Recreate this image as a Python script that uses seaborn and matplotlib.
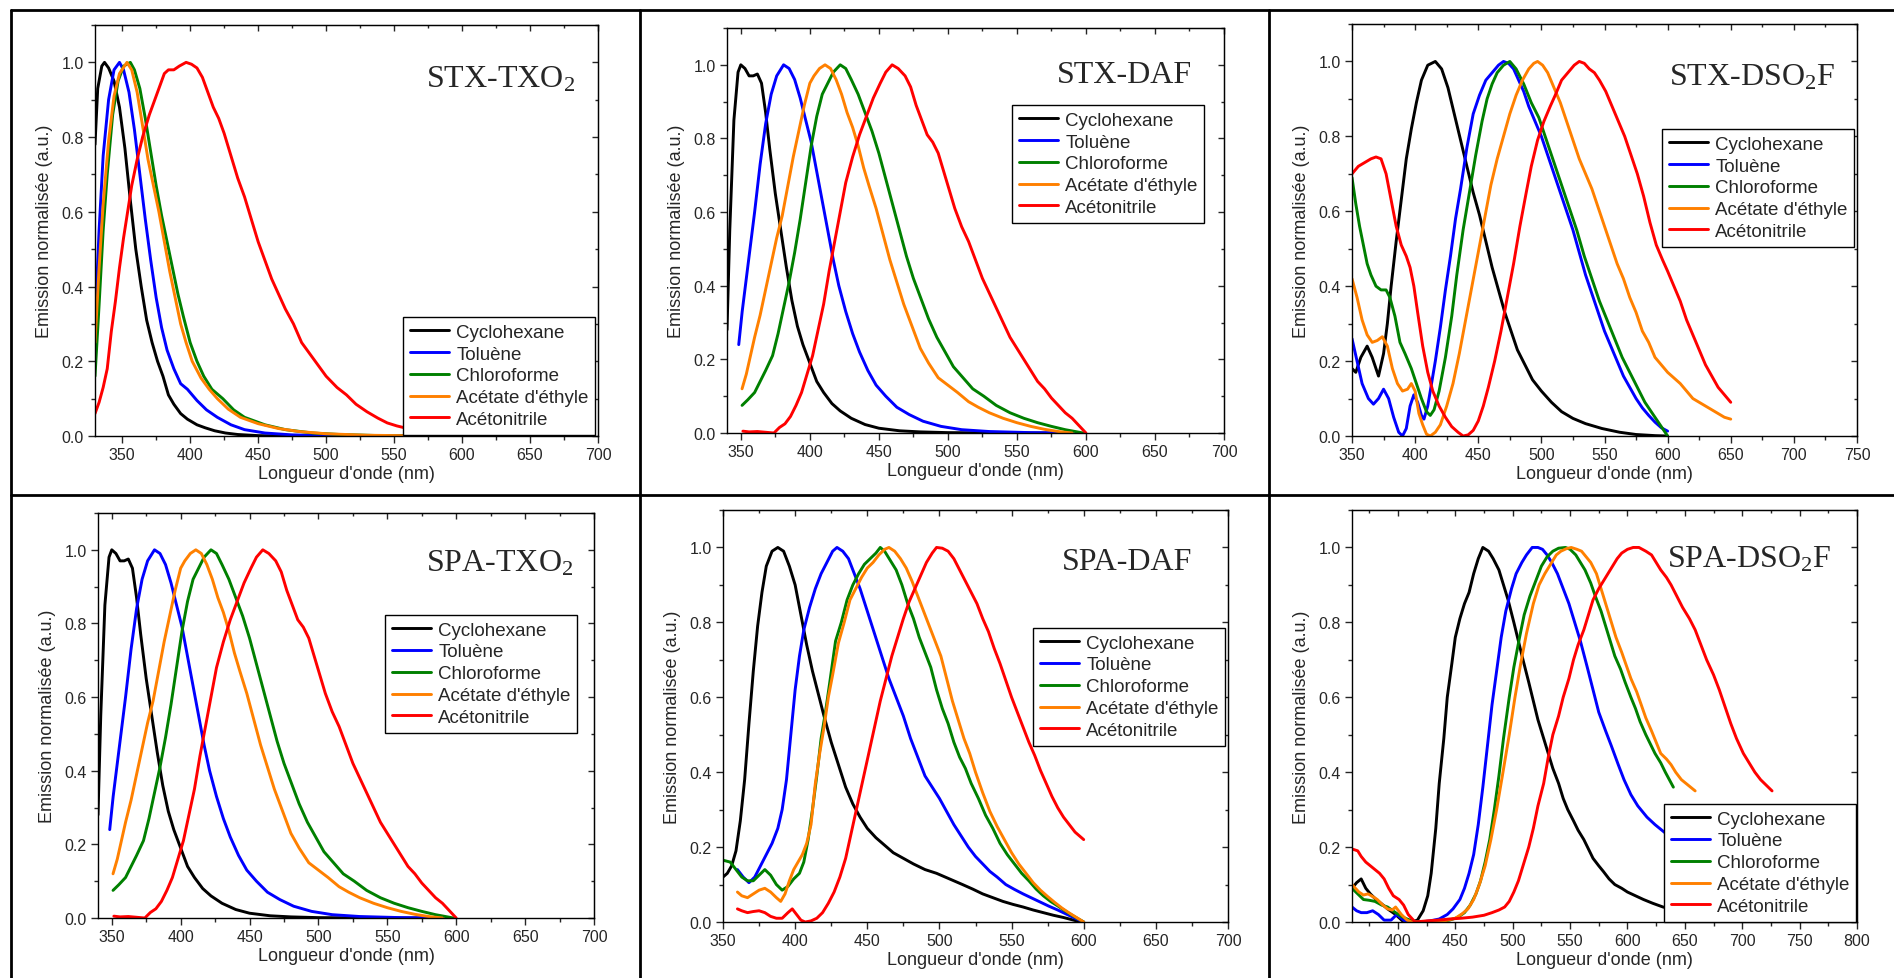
import matplotlib
matplotlib.use("Agg")
import matplotlib.pyplot as plt
from matplotlib.ticker import MultipleLocator, FormatStrFormatter
from matplotlib.lines import Line2D
import seaborn as sns

# Solvants et couleurs
solvants = ["Cyclohexane", "Toluène", "Chloroforme", "Acétate d'éthyle", "Acétonitrile"]
couleurs = ["#000000", "#0000FF", "#008000", "#FF8000", "#FF0000"]

#### STX-TXO2 ####
txo2_cyc_x = [330, 332, 335, 337, 340, 344, 348, 352, 356, 360, 364, 368, 372, 376, 380, 384, 388, 393, 398, 405,
              411, 418, 426, 435, 450, 470, 500, 550, 590]
txo2_cyc_y = [0.78, 0.93, 0.99, 1.0, 0.985, 0.95, 0.88, 0.77, 0.63, 0.50, 0.40, 0.31, 0.25, 0.20, 0.16, 0.11, 0.085,
              0.06, 0.045, 0.03, 0.022, 0.014, 0.008, 0.004, 0.001, 0.0, 0.0, 0.0, 0.0]
txo2_tol_x = [330, 333, 336, 340, 344, 348, 351, 355, 359, 363, 367, 371, 375, 379, 383, 388, 393, 398, 405, 412,
              420, 430, 440, 455, 475, 500, 550, 580]
txo2_tol_y = [0.30, 0.55, 0.75, 0.90, 0.98, 1.0, 0.98, 0.92, 0.82, 0.70, 0.58, 0.47, 0.37, 0.29, 0.23, 0.18, 0.14,
              0.125, 0.095, 0.07, 0.05, 0.03, 0.017, 0.008, 0.003, 0.001, 0.0, 0.0]
txo2_chl_x = [330, 333, 336, 339, 343, 347, 351, 356, 359, 363, 367, 371, 375, 379, 383, 387, 391, 395, 400, 405,
              410, 416, 424, 432, 440, 455, 470, 490, 510, 540, 575]
txo2_chl_y = [0.16, 0.35, 0.55, 0.70, 0.86, 0.95, 0.99, 1.0, 0.98, 0.93, 0.85, 0.76, 0.67, 0.59, 0.52, 0.45, 0.38,
              0.32, 0.25, 0.20, 0.16, 0.125, 0.10, 0.07, 0.05, 0.03, 0.017, 0.008, 0.004, 0.001, 0.0]
txo2_ace_x = [330, 333, 336, 340, 344, 348, 353.5, 357, 361, 365, 369, 373, 377, 381, 385, 389, 393, 397, 401.5, 408,
              414, 420, 428, 437, 450, 465, 480, 500, 530, 578]
txo2_ace_y = [0.25, 0.45, 0.62, 0.79, 0.91, 0.97, 1.0, 0.98, 0.92, 0.83, 0.74, 0.67, 0.60, 0.52, 0.44, 0.37, 0.30,
              0.25, 0.20, 0.155, 0.125, 0.10, 0.072, 0.05, 0.033, 0.02, 0.012, 0.006, 0.002, 0.0]
txo2_acn_x = [330, 333, 336, 339, 342, 345, 348, 351, 354, 357, 361, 365, 370, 376, 381, 384, 388, 392, 397, 401,
              405, 409, 413, 417, 421, 425, 430, 435, 440, 445, 450, 455, 460, 465, 470, 476, 482, 488, 494, 500,
              508, 515, 522, 530, 538, 545, 552, 560, 568, 575, 582, 590]
txo2_acn_y = [0.06, 0.09, 0.13, 0.18, 0.28, 0.36, 0.45, 0.53, 0.60, 0.67, 0.74, 0.80, 0.86, 0.92, 0.97, 0.98, 0.98,
              0.99, 1.0, 0.995, 0.985, 0.96, 0.92, 0.88, 0.85, 0.81, 0.75, 0.69, 0.64, 0.58, 0.52, 0.47, 0.42, 0.38,
              0.34, 0.30, 0.25, 0.22, 0.19, 0.16, 0.13, 0.11, 0.085, 0.065, 0.048, 0.035, 0.027, 0.02, 0.014, 0.01,
              0.005, 0.0]

#### STX-DAF ####
daf_cyc_x = [340, 342, 345, 348, 350, 353, 356, 359, 362, 365, 368, 371, 375, 379, 383, 387, 391, 395, 400, 405,
             410, 416, 422, 430, 440, 450, 465, 480, 500, 550, 590]
daf_cyc_y = [0.28, 0.55, 0.85, 0.98, 1.0, 0.99, 0.97, 0.97, 0.975, 0.95, 0.87, 0.77, 0.65, 0.55, 0.45, 0.36, 0.29,
             0.24, 0.19, 0.14, 0.11, 0.08, 0.06, 0.04, 0.023, 0.013, 0.006, 0.003, 0.001, 0.0, 0.0]
daf_tol_x = [348.5, 351, 354, 357, 360, 364, 368, 372, 376, 381, 385, 389, 393, 397, 401, 405, 409, 413, 417, 421,
             426, 431, 436, 442, 448, 455, 463, 472, 482, 495, 510, 530, 560, 590]
daf_tol_y = [0.24, 0.33, 0.42, 0.51, 0.60, 0.73, 0.84, 0.92, 0.97, 1.0, 0.99, 0.96, 0.91, 0.85, 0.79, 0.71, 0.63,
             0.55, 0.47, 0.40, 0.33, 0.27, 0.22, 0.17, 0.13, 0.10, 0.07, 0.05, 0.032, 0.018, 0.009, 0.004, 0.001, 0.0]
daf_chl_x = [350.9, 355, 360, 364, 368, 373, 377, 381, 385, 389, 393, 397, 401, 405, 409, 413, 417, 422, 426, 430,
             435, 440, 445, 450, 455, 460, 465, 470, 475, 480, 486, 492, 498, 504, 511, 518, 526, 535, 545, 555,
             565, 575, 585, 598]
daf_chl_y = [0.075, 0.09, 0.11, 0.14, 0.17, 0.21, 0.27, 0.34, 0.41, 0.49, 0.58, 0.68, 0.78, 0.86, 0.92, 0.95, 0.98,
             1.0, 0.99, 0.96, 0.92, 0.87, 0.82, 0.76, 0.69, 0.62, 0.55, 0.48, 0.42, 0.37, 0.31, 0.26, 0.22, 0.18,
             0.15, 0.12, 0.10, 0.075, 0.055, 0.04, 0.028, 0.018, 0.009, 0.0]
daf_ace_x = [350.9, 354, 357, 360, 364, 368, 372, 376, 380, 384, 388, 392, 396, 400, 403, 407, 411, 415, 419, 423,
             427, 431, 435, 439, 443, 448, 453, 458, 463, 468, 474, 480, 486, 493, 500, 507, 515, 522, 530, 540,
             550, 560, 570, 580, 590]
daf_ace_y = [0.12, 0.16, 0.21, 0.26, 0.32, 0.39, 0.46, 0.53, 0.59, 0.67, 0.75, 0.82, 0.89, 0.95, 0.97, 0.99, 1.0,
             0.99, 0.96, 0.92, 0.87, 0.83, 0.78, 0.72, 0.67, 0.61, 0.54, 0.47, 0.41, 0.35, 0.29, 0.23, 0.19, 0.15,
             0.13, 0.11, 0.085, 0.07, 0.055, 0.04, 0.028, 0.018, 0.01, 0.004, 0.0]
daf_acn_x = [351.5, 356, 362, 368, 374, 378, 382, 386, 390, 394, 398, 402, 406, 410, 414, 418, 422, 426, 431, 436,
             441, 446, 451, 455, 459.6, 464, 469, 473, 477, 481, 485, 489, 493, 497, 501, 505, 510, 515, 520, 525,
             530, 535, 540, 545, 550, 555, 560, 565, 570, 575, 580, 585, 590, 595, 600]
daf_acn_y = [0.005, 0.003, 0.004, 0.002, 0.0, 0.015, 0.025, 0.045, 0.075, 0.11, 0.16, 0.21, 0.28, 0.35, 0.44, 0.52,
             0.60, 0.68, 0.75, 0.81, 0.86, 0.91, 0.95, 0.98, 1.0, 0.99, 0.97, 0.94, 0.89, 0.85, 0.81, 0.79, 0.76,
             0.71, 0.66, 0.61, 0.56, 0.52, 0.47, 0.42, 0.38, 0.34, 0.30, 0.26, 0.23, 0.20, 0.17, 0.14, 0.12, 0.095,
             0.075, 0.055, 0.04, 0.02, 0.0]

#### STX-DSO2F ####
dso_cyc_x = [350, 353, 357, 362, 366, 371, 375, 378, 381, 385, 389, 393, 397, 401, 405, 410, 416, 421, 426, 431,
             436, 441, 446, 451, 456, 461, 466, 471, 476, 481, 487, 493, 500, 508, 516, 525, 535, 548, 562, 575,
             590, 600]
dso_cyc_y = [0.18, 0.17, 0.21, 0.24, 0.21, 0.16, 0.22, 0.30, 0.40, 0.52, 0.63, 0.74, 0.82, 0.89, 0.95, 0.99, 1.0,
             0.98, 0.93, 0.86, 0.79, 0.72, 0.65, 0.59, 0.52, 0.45, 0.39, 0.33, 0.28, 0.23, 0.19, 0.15, 0.12, 0.09,
             0.065, 0.047, 0.033, 0.02, 0.01, 0.004, 0.001, 0.0]
dso_tol_x = [350, 354, 358, 363, 367, 371, 375, 379, 383, 387, 390, 393, 396, 399, 402, 405, 407, 410, 413, 416,
             420, 424, 428, 432, 436, 441, 446, 451, 456, 461, 466, 470, 474, 478, 482, 486, 490, 495, 500, 505,
             510, 515, 520, 525, 530, 535, 540, 545, 550, 555, 560, 565, 570, 575, 580, 585, 590, 595, 600]
dso_tol_y = [0.26, 0.20, 0.14, 0.10, 0.085, 0.10, 0.125, 0.10, 0.05, 0.01, 0.0, 0.02, 0.08, 0.11, 0.09, 0.055,
             0.045, 0.08, 0.14, 0.20, 0.29, 0.39, 0.48, 0.58, 0.66, 0.77, 0.86, 0.91, 0.95, 0.97, 0.99, 1.0, 0.995,
             0.98, 0.95, 0.92, 0.88, 0.84, 0.80, 0.75, 0.70, 0.65, 0.60, 0.55, 0.49, 0.43, 0.38, 0.33, 0.28, 0.24,
             0.20, 0.16, 0.13, 0.10, 0.075, 0.055, 0.037, 0.022, 0.013]
dso_chl_x = [350, 353, 356, 359, 362, 365, 369, 373, 377, 380, 384, 388, 392, 397, 401, 405, 409, 412, 415, 419,
             424, 429, 433, 438, 443, 448, 453, 457, 461, 465, 470, 475, 480, 486, 492, 498, 504, 510, 516, 522,
             528, 534, 540, 546, 552, 558, 564, 570, 576, 582, 588, 594, 600]
dso_chl_y = [0.69, 0.62, 0.56, 0.51, 0.46, 0.43, 0.40, 0.39, 0.39, 0.37, 0.32, 0.25, 0.22, 0.18, 0.14, 0.10, 0.065,
             0.055, 0.07, 0.12, 0.21, 0.32, 0.43, 0.55, 0.65, 0.75, 0.84, 0.90, 0.94, 0.97, 0.99, 1.0, 0.98, 0.94,
             0.89, 0.85, 0.79, 0.73, 0.67, 0.61, 0.55, 0.48, 0.42, 0.36, 0.31, 0.26, 0.21, 0.17, 0.13, 0.09, 0.06,
             0.03, 0.0]
dso_ace_x = [350, 354, 358, 362, 366, 370, 374, 378, 382, 386, 390, 394, 397, 400, 403, 406, 409, 412, 416, 420,
             425, 430, 435, 440, 445, 450, 455, 460, 465, 470, 475, 480, 485, 490, 494, 497, 501, 505, 510, 515,
             520, 525, 530, 535, 540, 545, 550, 555, 560, 565, 570, 575, 580, 585, 590, 595, 600, 605, 610, 615,
             620, 625, 630, 635, 640, 645, 650]
dso_ace_y = [0.42, 0.37, 0.31, 0.27, 0.25, 0.255, 0.265, 0.24, 0.18, 0.14, 0.12, 0.125, 0.14, 0.12, 0.06, 0.03,
             0.005, 0.0, 0.01, 0.03, 0.08, 0.14, 0.22, 0.31, 0.40, 0.49, 0.58, 0.67, 0.74, 0.80, 0.86, 0.91, 0.95,
             0.98, 0.995, 1.0, 0.99, 0.97, 0.93, 0.89, 0.84, 0.79, 0.74, 0.70, 0.66, 0.61, 0.56, 0.51, 0.46, 0.42,
             0.37, 0.33, 0.28, 0.25, 0.21, 0.19, 0.17, 0.155, 0.14, 0.12, 0.10, 0.09, 0.08, 0.07, 0.06, 0.05, 0.045]
dso_acn_x = [350, 355, 360, 365, 369, 373, 377, 381, 385, 389, 393, 396, 399, 402, 406, 410, 414, 419, 424, 429,
             434, 438, 442, 446, 450, 454, 458, 463, 468, 473, 478, 483, 488, 492, 497, 502, 507, 511, 516, 521,
             526, 530, 534, 538, 542, 546, 551, 556, 561, 566, 571, 576, 581, 586, 591, 596, 600, 605, 610, 615,
             620, 625, 630, 635, 640, 645, 650]
dso_acn_y = [0.70, 0.72, 0.73, 0.74, 0.745, 0.74, 0.70, 0.63, 0.56, 0.51, 0.48, 0.45, 0.40, 0.33, 0.24, 0.17, 0.12,
             0.08, 0.05, 0.025, 0.01, 0.0, 0.003, 0.015, 0.04, 0.08, 0.13, 0.2, 0.28, 0.37, 0.46, 0.56, 0.65, 0.72,
             0.79, 0.84, 0.88, 0.91, 0.95, 0.97, 0.99, 1.0, 0.995, 0.98, 0.97, 0.95, 0.92, 0.88, 0.84, 0.80, 0.75,
             0.70, 0.64, 0.57, 0.51, 0.47, 0.44, 0.40, 0.36, 0.31, 0.27, 0.23, 0.19, 0.16, 0.13, 0.11, 0.09]

#### SPA-TXO2 : mêmes spectres que STX-DAF dans la figure d'origine ####
spa_txo2 = [(daf_cyc_x, daf_cyc_y), (daf_tol_x, daf_tol_y), (daf_chl_x, daf_chl_y),
            (daf_ace_x, daf_ace_y), (daf_acn_x, daf_acn_y)]

#### SPA-DAF ####
sdaf_cyc_x = [350, 353, 356, 359, 362, 365, 368, 371, 374, 377, 380, 384, 388, 392, 396, 400, 404, 408, 412, 416,
              420, 425, 430, 435, 440, 445, 450, 456, 462, 468, 475, 482, 490, 498, 504, 510, 516, 523, 530, 537,
              544, 551, 558, 565, 572, 579, 586, 592, 598]
sdaf_cyc_y = [0.12, 0.13, 0.15, 0.19, 0.27, 0.38, 0.53, 0.67, 0.79, 0.88, 0.95, 0.99, 1.0, 0.99, 0.95, 0.90, 0.82,
              0.74, 0.67, 0.61, 0.55, 0.48, 0.42, 0.36, 0.315, 0.28, 0.25, 0.225, 0.205, 0.185, 0.17, 0.155, 0.14,
              0.13, 0.12, 0.11, 0.10, 0.088, 0.075, 0.065, 0.055, 0.047, 0.04, 0.032, 0.025, 0.018, 0.012, 0.006,
              0.0]
sdaf_tol_x = [360, 364, 368, 372, 376, 380, 384, 388, 391, 394, 397, 400, 403, 406, 410, 414, 418, 422, 426, 429,
              433, 437, 441, 445, 450, 455, 460, 465, 470, 475, 480, 485, 490, 495, 500, 505, 510, 515, 520, 525,
              530, 535, 540, 546, 552, 558, 564, 570, 576, 582, 588, 594, 600]
sdaf_tol_y = [0.14, 0.12, 0.105, 0.12, 0.15, 0.18, 0.21, 0.25, 0.30, 0.38, 0.50, 0.62, 0.71, 0.78, 0.84, 0.89, 0.93,
              0.96, 0.99, 1.0, 0.99, 0.97, 0.93, 0.89, 0.83, 0.77, 0.71, 0.65, 0.60, 0.55, 0.49, 0.44, 0.39, 0.36,
              0.33, 0.295, 0.26, 0.23, 0.20, 0.175, 0.155, 0.135, 0.12, 0.10, 0.087, 0.075, 0.064, 0.053, 0.042,
              0.032, 0.021, 0.01, 0.0]
sdaf_chl_x = [350, 355, 359, 363, 367, 371, 375, 379, 383, 387, 391, 395, 399, 403, 406, 409, 412, 415, 418, 421,
              424, 428, 432, 436, 440, 444, 448, 452, 456, 459, 462, 466, 470, 474, 478, 482, 486, 490, 494, 498,
              502, 506, 510, 514, 518, 522, 527, 532, 537, 542, 547, 552, 557, 562, 567, 572, 577, 582, 587, 592,
              596, 600]
sdaf_chl_y = [0.165, 0.16, 0.14, 0.12, 0.11, 0.11, 0.125, 0.14, 0.125, 0.10, 0.085, 0.095, 0.115, 0.13, 0.16, 0.22,
              0.30, 0.39, 0.49, 0.56, 0.64, 0.75, 0.80, 0.86, 0.90, 0.93, 0.955, 0.97, 0.985, 1.0, 0.99, 0.965,
              0.94, 0.90, 0.85, 0.81, 0.76, 0.72, 0.68, 0.62, 0.57, 0.53, 0.48, 0.44, 0.41, 0.37, 0.33, 0.285,
              0.25, 0.21, 0.18, 0.155, 0.13, 0.11, 0.088, 0.07, 0.055, 0.043, 0.03, 0.018, 0.009, 0.0]
sdaf_ace_x = [360, 363, 367, 371, 375, 379, 383, 387, 390, 393, 396, 399, 402, 405, 408, 411, 414, 417, 420, 423,
              426, 430, 434, 438, 442, 446, 450, 454, 458, 462, 465, 469, 473, 477, 481, 485, 489, 493, 497, 501,
              505, 509, 513, 517, 521, 525, 530, 535, 540, 545, 550, 555, 560, 565, 570, 575, 580, 585, 590, 595,
              600]
sdaf_ace_y = [0.08, 0.07, 0.065, 0.075, 0.085, 0.09, 0.08, 0.065, 0.055, 0.075, 0.11, 0.14, 0.16, 0.18, 0.21, 0.26,
              0.37, 0.45, 0.52, 0.60, 0.66, 0.745, 0.80, 0.86, 0.89, 0.92, 0.945, 0.96, 0.98, 0.995, 1.0, 0.99,
              0.97, 0.945, 0.91, 0.87, 0.83, 0.79, 0.75, 0.71, 0.65, 0.59, 0.54, 0.49, 0.45, 0.40, 0.345, 0.295,
              0.255, 0.22, 0.185, 0.155, 0.13, 0.105, 0.085, 0.068, 0.052, 0.037, 0.024, 0.012, 0.0]
sdaf_acn_x = [360, 363, 367, 371, 375, 379, 383, 387, 391, 395, 398, 401, 404, 407, 411, 415, 419, 423, 427, 431,
              435, 439, 443, 447, 451, 455, 459, 463, 467, 471, 475, 479, 483, 487, 491, 495, 498, 502, 506, 510,
              514, 518, 522, 526, 530, 534, 538, 542, 546, 550, 554, 558, 562, 566, 570, 574, 578, 582, 586, 590,
              594, 600]
sdaf_acn_y = [0.035, 0.03, 0.025, 0.028, 0.03, 0.025, 0.015, 0.01, 0.01, 0.025, 0.035, 0.02, 0.005, 0.0, 0.003,
              0.01, 0.025, 0.05, 0.08, 0.12, 0.17, 0.24, 0.31, 0.38, 0.45, 0.52, 0.59, 0.65, 0.71, 0.76, 0.81, 0.855,
              0.89, 0.925, 0.96, 0.985, 1.0, 0.998, 0.99, 0.97, 0.94, 0.91, 0.88, 0.85, 0.81, 0.775, 0.73, 0.69,
              0.645, 0.60, 0.56, 0.52, 0.48, 0.445, 0.405, 0.37, 0.335, 0.305, 0.28, 0.26, 0.24, 0.22]

#### SPA-DSO2F ####
sdso_cyc_x = [360, 364, 368, 372, 376, 381, 386, 391, 398, 405, 412, 417, 422, 426, 429, 433, 436, 440, 443, 447,
              450, 454, 458, 462, 466, 470, 474, 479, 483, 488, 492, 496, 501, 505, 509, 514, 518, 522, 527, 531,
              535, 540, 544, 548, 553, 557, 562, 566, 570, 575, 579, 584, 589, 595, 600, 607, 614, 622, 631, 645,
              660, 680, 700]
sdso_cyc_y = [0.09, 0.105, 0.115, 0.09, 0.075, 0.06, 0.048, 0.035, 0.02, 0.0, 0.0, 0.005, 0.03, 0.07, 0.13, 0.25,
              0.37, 0.49, 0.6, 0.69, 0.76, 0.81, 0.85, 0.88, 0.93, 0.97, 1.0, 0.99, 0.97, 0.94, 0.9, 0.86, 0.8, 0.75,
              0.7, 0.64, 0.59, 0.54, 0.49, 0.45, 0.41, 0.37, 0.33, 0.30, 0.27, 0.245, 0.22, 0.195, 0.17, 0.15,
              0.135, 0.115, 0.1, 0.09, 0.08, 0.07, 0.06, 0.05, 0.04, 0.03, 0.02, 0.012, 0.006]
sdso_tol_x = [360, 364, 368, 373, 378, 383, 388, 394, 399, 403, 407, 413, 420, 428, 436, 443, 448, 454, 458, 462,
              466, 470, 474, 478, 482, 486, 490, 494, 499, 503, 508, 512, 517, 522, 526, 530, 534, 539, 544, 549,
              554, 559, 565, 570, 575, 581, 586, 592, 597, 603, 609, 617, 624, 632, 645, 660]
sdso_tol_y = [0.04, 0.03, 0.025, 0.025, 0.03, 0.02, 0.005, 0.005, 0.02, 0.01, 0.0, 0.0, 0.0, 0.003, 0.008, 0.02,
              0.035, 0.06, 0.09, 0.13, 0.18, 0.26, 0.36, 0.47, 0.58, 0.67, 0.76, 0.83, 0.89, 0.93, 0.96, 0.98, 1.0,
              1.0, 0.995, 0.98, 0.96, 0.93, 0.89, 0.85, 0.80, 0.75, 0.68, 0.62, 0.56, 0.51, 0.47, 0.42, 0.38, 0.34,
              0.31, 0.28, 0.26, 0.24, 0.21, 0.18]
sdso_chl_x = [360, 365, 370, 375, 380, 386, 391, 398, 403, 408, 415, 425, 435, 445, 452, 458, 463, 468, 472, 476,
              480, 484, 488, 492, 497, 501, 506, 510, 515, 520, 525, 530, 535, 540, 546, 550, 555, 559, 563, 568,
              572, 577, 581, 585, 589, 594, 598, 603, 607, 611, 616, 620, 624, 629, 633, 640]
sdso_chl_y = [0.09, 0.075, 0.06, 0.058, 0.055, 0.045, 0.04, 0.025, 0.015, 0.008, 0.0, 0.0, 0.0, 0.005, 0.012, 0.025,
              0.045, 0.075, 0.11, 0.16, 0.22, 0.30, 0.39, 0.49, 0.60, 0.68, 0.76, 0.82, 0.87, 0.91, 0.95, 0.975,
              0.99, 0.998, 1.0, 0.995, 0.98, 0.96, 0.94, 0.905, 0.87, 0.83, 0.79, 0.75, 0.71, 0.675, 0.64, 0.60,
              0.57, 0.535, 0.50, 0.475, 0.45, 0.425, 0.40, 0.36]
sdso_ace_x = [360, 366, 370, 374, 378, 382, 387, 391, 395, 398, 403, 408, 412, 422, 432, 442, 450, 456, 461, 466,
              471, 476, 481, 486, 491, 497, 502, 507, 512, 518, 523, 528, 534, 538, 542, 547, 551, 556, 560, 564,
              568, 573, 577, 581, 586, 590, 595, 599, 603, 608, 612, 616, 621, 625, 629, 634, 638, 642, 647, 653,
              659]
sdso_ace_y = [0.10, 0.08, 0.072, 0.075, 0.068, 0.06, 0.045, 0.035, 0.032, 0.04, 0.02, 0.005, 0.0, 0.0, 0.0, 0.004,
              0.01, 0.022, 0.035, 0.06, 0.10, 0.15, 0.22, 0.30, 0.39, 0.50, 0.60, 0.69, 0.77, 0.85, 0.90, 0.93,
              0.96, 0.98, 0.99, 0.997, 1.0, 0.995, 0.99, 0.975, 0.96, 0.93, 0.89, 0.85, 0.80, 0.76, 0.72, 0.685,
              0.65, 0.615, 0.58, 0.545, 0.51, 0.48, 0.45, 0.435, 0.42, 0.40, 0.38, 0.365, 0.35]
sdso_acn_x = [360, 365, 368, 372, 376, 380, 384, 388, 392, 396, 401, 405, 409, 415, 425, 435, 445, 455, 465, 475,
              482, 488, 493, 497, 501, 505, 509, 514, 518, 522, 527, 531, 535, 540, 544, 549, 553, 557, 562, 566,
              570, 575, 581, 586, 591, 595, 600, 605, 610, 616, 621, 625, 629, 634, 638, 643, 648, 654, 659, 664,
              669, 675, 680, 685, 690, 695, 701, 706, 711, 716, 721, 726]
sdso_acn_y = [0.195, 0.19, 0.175, 0.16, 0.15, 0.14, 0.13, 0.115, 0.09, 0.07, 0.06, 0.045, 0.02, 0.0, 0.003, 0.005,
              0.008, 0.01, 0.013, 0.018, 0.025, 0.032, 0.04, 0.055, 0.08, 0.11, 0.15, 0.2, 0.25, 0.31, 0.37, 0.44,
              0.50, 0.55, 0.60, 0.65, 0.70, 0.74, 0.78, 0.82, 0.86, 0.89, 0.92, 0.945, 0.97, 0.985, 0.995, 1.0, 1.0,
              0.99, 0.98, 0.96, 0.94, 0.92, 0.90, 0.87, 0.84, 0.81, 0.78, 0.74, 0.70, 0.66, 0.62, 0.575, 0.53, 0.49,
              0.45, 0.425, 0.40, 0.38, 0.365, 0.35]

W, H = 1894, 979

# titre, courbes, axes (px: gauche, haut, droite, bas), xlim, légende (px: gauche, haut), titre (px: gauche, ligne de base)
panneaux = [
    ("STX-TXO$\\mathregular{_2}$",
     [(txo2_cyc_x, txo2_cyc_y), (txo2_tol_x, txo2_tol_y), (txo2_chl_x, txo2_chl_y),
      (txo2_ace_x, txo2_ace_y), (txo2_acn_x, txo2_acn_y)],
     (95, 26, 598, 437), (330, 700), (403, 318), (426, 88)),
    ("STX-DAF",
     [(daf_cyc_x, daf_cyc_y), (daf_tol_x, daf_tol_y), (daf_chl_x, daf_chl_y),
      (daf_ace_x, daf_ace_y), (daf_acn_x, daf_acn_y)],
     (727, 29, 1224, 434), (340, 700), (1012, 106), (1057, 83)),
    ("STX-DSO$\\mathregular{_2}$F",
     [(dso_cyc_x, dso_cyc_y), (dso_tol_x, dso_tol_y), (dso_chl_x, dso_chl_y),
      (dso_ace_x, dso_ace_y), (dso_acn_x, dso_acn_y)],
     (1352, 25, 1857, 437), (350, 750), (1662, 130), (1669, 85)),
    ("SPA-TXO$\\mathregular{_2}$", spa_txo2,
     (98, 514, 594, 919), (340, 700), (385, 616), (426, 572)),
    ("SPA-DAF",
     [(sdaf_cyc_x, sdaf_cyc_y), (sdaf_tol_x, sdaf_tol_y), (sdaf_chl_x, sdaf_chl_y),
      (sdaf_ace_x, sdaf_ace_y), (sdaf_acn_x, sdaf_acn_y)],
     (723, 511, 1228, 923), (350, 700), (1033, 629), (1062, 570)),
    ("SPA-DSO$\\mathregular{_2}$F",
     [(sdso_cyc_x, sdso_cyc_y), (sdso_tol_x, sdso_tol_y), (sdso_chl_x, sdso_chl_y),
      (sdso_ace_x, sdso_ace_y), (sdso_acn_x, sdso_acn_y)],
     (1352, 511, 1857, 923), (360, 800), (1664, 805), (1667, 568)),
]

sns.set_style("ticks")
plt.rcParams['font.family'] = ['Liberation Sans', 'DejaVu Sans']
plt.rcParams['mathtext.default'] = 'regular'

fig = plt.figure(figsize=(W / 100, H / 100), dpi=100)

for titre, courbes, (l, t, r, b), xlim, (lx, ly), (tx, ty) in panneaux:
    ax = fig.add_axes([l / W, 1 - b / H, (r - l) / W, (b - t) / H])
    for (xs, ys), nom, c in zip(courbes, solvants, couleurs):
        sns.lineplot(x=xs, y=ys, ax=ax, color=c, lw=2.1, sort=False, estimator=None, label=nom, legend=False)

    ax.set_xlim(*xlim)
    ax.set_ylim(0, 1.1)
    ax.xaxis.set_major_locator(MultipleLocator(50))
    ax.xaxis.set_minor_locator(MultipleLocator(25))
    ax.yaxis.set_major_locator(MultipleLocator(0.2))
    ax.yaxis.set_minor_locator(MultipleLocator(0.1))
    ax.yaxis.set_major_formatter(FormatStrFormatter('%.1f'))
    ax.tick_params(which='major', direction='out', length=5, width=1, labelsize=11.5, pad=3)
    ax.tick_params(which='minor', direction='out', length=3, width=1)
    for s in ax.spines.values():
        s.set_linewidth(1)
        s.set_color('black')

    # graduations internes en haut et a droite
    sx = ax.secondary_xaxis('top')
    sx.xaxis.set_major_locator(MultipleLocator(50))
    sx.xaxis.set_minor_locator(MultipleLocator(25))
    sx.tick_params(which='both', direction='in', labeltop=False, width=1)
    sx.tick_params(which='major', length=4)
    sx.tick_params(which='minor', length=2.5)
    sy = ax.secondary_yaxis('right')
    sy.yaxis.set_major_locator(MultipleLocator(0.2))
    sy.yaxis.set_minor_locator(MultipleLocator(0.1))
    sy.tick_params(which='both', direction='in', labelright=False, width=1)
    sy.tick_params(which='major', length=4)
    sy.tick_params(which='minor', length=2.5)

    ax.set_xlabel("Longueur d'onde (nm)", fontsize=13, labelpad=2)
    ax.set_ylabel("Emission normalisée (a.u.)", fontsize=13, labelpad=6)

    leg = ax.legend(ax.get_lines(), solvants, loc='upper left', bbox_to_anchor=(lx / W, 1 - ly / H),
                    bbox_transform=fig.transFigure, borderaxespad=0, fontsize=13.5, frameon=True,
                    fancybox=False, edgecolor='black', framealpha=1, handlelength=2.1, handletextpad=0.4,
                    labelspacing=0.25, borderpad=0.35)
    leg.get_frame().set_linewidth(1)

    fig.text(tx / W, 1 - ty / H, titre, family=['Liberation Serif', 'DejaVu Serif'], fontsize=23,
             ha='left', va='baseline')

# cadre du tableau
bords = [((11, 11), (11, H)), ((11, W), (11, 11)), ((640, 640), (11, H)), ((1269, 1269), (11, H)),
         ((11, W), (496, 496))]
for xs, ys in bords:
    fig.add_artist(Line2D([x / W for x in xs], [1 - y / H for y in ys], transform=fig.transFigure,
                          color='black', lw=2))

plt.savefig('out.png', dpi=100)
